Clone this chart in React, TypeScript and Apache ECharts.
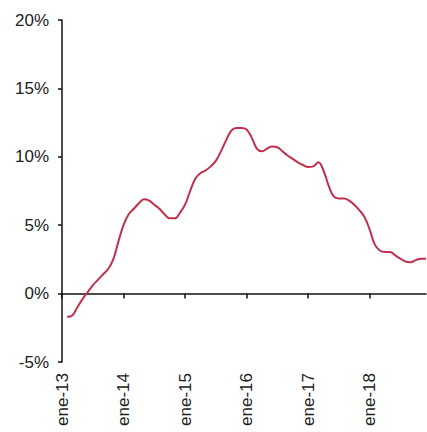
import React, { useEffect, useRef } from "react";
import * as echarts from "echarts";

const yearLabels = ["13", "14", "15", "16", "17", "18"];
const categories: string[] = [];
yearLabels.forEach((y) => {
  for (let m = 0; m < 12; m++) categories.push(m === 0 ? `ene-${y}` : `${m + 1}-${y}`);
});

const values: (number | null)[] = [
  null, -1.7, -1.6, -1.0, -0.4, 0.1, 0.6, 1.0, 1.4, 1.8, 2.5, 3.8,
  5.0, 5.8, 6.2, 6.6, 6.9, 6.8, 6.5, 6.2, 5.8, 5.5, 5.5, 5.9,
  6.5, 7.5, 8.4, 8.8, 9.0, 9.3, 9.7, 10.4, 11.2, 11.9, 12.1, 12.1,
  12.0, 11.4, 10.6, 10.4, 10.6, 10.75, 10.7, 10.4, 10.1, 9.85, 9.6, 9.4,
  9.25, 9.3, 9.6, 9.0, 7.9, 7.1, 6.95, 6.95, 6.8, 6.5, 6.1, 5.6,
  4.7, 3.6, 3.15, 3.05, 3.05, 2.8, 2.55, 2.35, 2.3, 2.45, 2.55, 2.55,
];

const yMin = -5;
const yMax = 20;
const yStep = 5;

export default function App() {
  const ref = useRef<HTMLDivElement>(null);
  useEffect(() => {
    if (!ref.current) return;
    const chart = echarts.init(ref.current, null, { renderer: "svg" });
    const font = "'Liberation Sans', Arial, sans-serif";
    chart.setOption({
      animation: false,
      backgroundColor: "#ffffff",
      grid: { left: 62, top: 20, bottom: 70, right: 1, containLabel: false },
      xAxis: [
        {
          type: "category",
          data: categories,
          boundaryGap: false,
          position: "bottom",
          axisLine: { show: true, onZero: true, lineStyle: { color: "#111", width: 1.5 } },
          axisTick: { show: true, interval: 11, length: 5, inside: false, lineStyle: { color: "#111", width: 1.5 } },
          axisLabel: { show: false },
          splitLine: { show: false },
        },
        {
          type: "category",
          data: categories,
          boundaryGap: false,
          position: "bottom",
          axisLine: { show: false, onZero: false },
          axisTick: { show: false },
          axisLabel: {
            show: true,
            interval: 11,
            rotate: 90,
            margin: 11,
            color: "#222",
            fontSize: 17,
            fontFamily: font,
          },
          splitLine: { show: false },
        },
      ],
      yAxis: {
        type: "value",
        min: yMin,
        max: yMax,
        interval: yStep,
        axisLine: { show: true, lineStyle: { color: "#111", width: 1.5 } },
        axisTick: { show: true, length: 4, lineStyle: { color: "#111", width: 1.5 } },
        axisLabel: {
          formatter: "{value}%",
          margin: 13,
          color: "#222",
          fontSize: 17,
          fontFamily: font,
        },
        splitLine: { show: false },
      },
      series: [
        {
          type: "line",
          xAxisIndex: 0,
          data: values,
          smooth: 0.4,
          showSymbol: false,
          lineStyle: { color: "#c0304c", width: 2 },
        },
      ],
    });
    return () => chart.dispose();
  }, []);
  return (
    <div
      ref={ref}
      style={{ position: "fixed", left: 0, top: 0, width: 427, height: 432 }}
    />
  );
}
